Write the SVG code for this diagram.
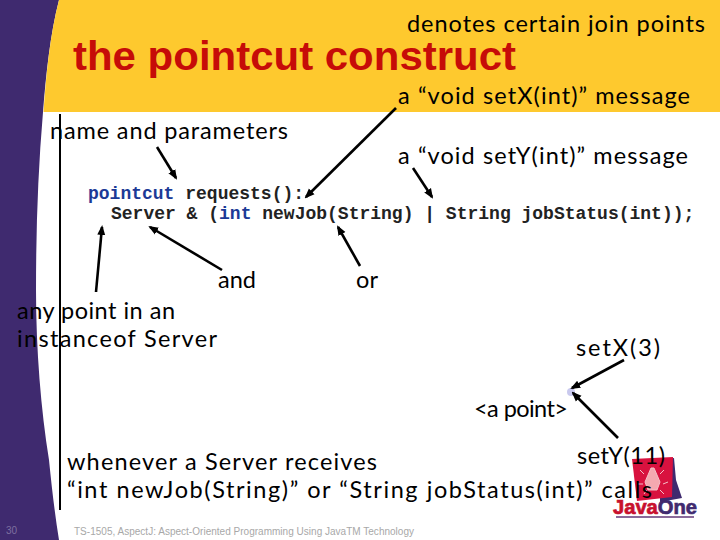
<svg xmlns="http://www.w3.org/2000/svg" width="720" height="540" viewBox="0 0 720 540">
<style>
.h{font-family:"Lato","Open Sans",sans-serif;font-size:23.500px;fill:#000}
.c{font-family:"Liberation Mono",monospace;font-size:18px;font-weight:bold;fill:#222;white-space:pre}
.k{fill:#1c3a96}
.a{stroke:#000;stroke-width:2.6;fill:none;marker-end:url(#ah)}
.f{font-family:"Liberation Sans",sans-serif;font-size:10px}
</style>
<defs>
<marker id="ah" viewBox="0 0 10 8" refX="8" refY="4" markerWidth="10" markerHeight="9" markerUnits="userSpaceOnUse" orient="auto"><path d="M0 0L10 4L0 8Z" fill="#000"/></marker>
</defs>
<rect width="720" height="540" fill="#fff"/>
<g id="background">
<path d="M0 0H59C50 35 46 75 43 112C38 170 36 230 36 290C36 350 41 410 49 460C52 490 55 515 59 540H0Z" fill="#3f2a6f"/>
<path d="M59 0H720V112H43.500C46 75 50 35 59 0Z" fill="#fec92e"/>
</g>
<g id="logo">
<path d="M660 460L674 458L676 480L682 498L660 502Z" fill="#3f2a6f"/>
<path d="M632 459L673 457L672 497L637 501Z" fill="#d8123f"/>
<path d="M651 468L654 468L660 482L657 490H648L645 482ZM640 470L644 474M664 470L660 474M638 484L643 484M668 482L663 484M644 494L647 490M664 494L660 490" fill="#f4a8b0" stroke="#f4c0c8" stroke-width="1"/>
<text x="613" y="514" font-family="Liberation Sans,sans-serif" font-size="20" font-weight="bold" stroke-width="0.700" textLength="84" lengthAdjust="spacingAndGlyphs"><tspan fill="#c8102e" stroke="#c8102e">Java</tspan><tspan fill="#3f2a6f" stroke="#3f2a6f">One</tspan></text>
<rect x="616" y="516" width="78" height="2" fill="#8a6a9a"/>
</g>
<g id="title"><text x="73" y="70" font-family="Liberation Sans,sans-serif" font-size="40" font-weight="bold" fill="#c60c08" textLength="443" lengthAdjust="spacingAndGlyphs">the pointcut construct</text></g>
<g id="n-denotes"><text class="h" x="407" y="32" textLength="298">denotes certain join points</text></g>
<g id="n-setx"><text class="h" x="398" y="104" textLength="292">a “void setX(int)” message</text></g>
<g id="n-name"><text class="h" x="50" y="139" textLength="238">name and parameters</text></g>
<g id="n-sety"><text class="h" x="398" y="164" textLength="290">a “void setY(int)” message</text></g>
<g id="n-code">
<text class="c" x="88" y="199"><tspan class="k">pointcut</tspan> requests():</text>
<text class="c" x="111" y="219">Server &amp; (<tspan class="k">int</tspan> newJob(String) | String jobStatus(int));</text>
</g>
<g id="n-and"><text class="h" x="218" y="288" textLength="38">and</text></g>
<g id="n-or"><text class="h" x="356" y="288" textLength="22">or</text></g>
<g id="n-any">
<text class="h" x="17" y="319" textLength="158">any point in an</text>
<text class="h" x="17" y="347" textLength="200">instanceof Server</text>
</g>
<g id="n-setx3"><text class="h" x="576" y="356" textLength="84">setX(3)</text></g>
<g id="n-point">
<circle cx="571" cy="392" r="4" fill="#c9c9ee"/>
<text class="h" x="474" y="417" textLength="94">&lt;a point&gt;</text>
</g>
<g id="n-sety11"><text class="h" x="577" y="464" textLength="88">setY(11)</text></g>
<g id="n-whenever">
<text class="h" x="67" y="470" textLength="310">whenever a Server receives</text>
<text class="h" x="67" y="498" textLength="585">“int newJob(String)” or “String jobStatus(int)” calls</text>
</g>
<g id="footer">
<text class="f" x="6" y="534" font-size="11" fill="#7d6fa0">30</text>
<text class="f" x="74" y="535" fill="#a8a8a8" textLength="340">TS-1505, AspectJ: Aspect-Oriented Programming Using JavaTM Technology</text>
</g>
<g id="connectors">
<line x1="60" y1="114" x2="60" y2="510" stroke="#000" stroke-width="2"/>
<line class="a" x1="157" y1="147" x2="176" y2="178"/>
<line class="a" x1="396" y1="108" x2="306" y2="197"/>
<line class="a" x1="413" y1="168" x2="432" y2="197"/>
<line class="a" x1="96" y1="292" x2="102" y2="227"/>
<line class="a" x1="222" y1="270" x2="150" y2="227"/>
<line class="a" x1="360" y1="266" x2="338" y2="227"/>
<line class="a" x1="624" y1="360" x2="572" y2="388"/>
<line class="a" x1="618" y1="438" x2="573" y2="393"/>
</g>
</svg>
